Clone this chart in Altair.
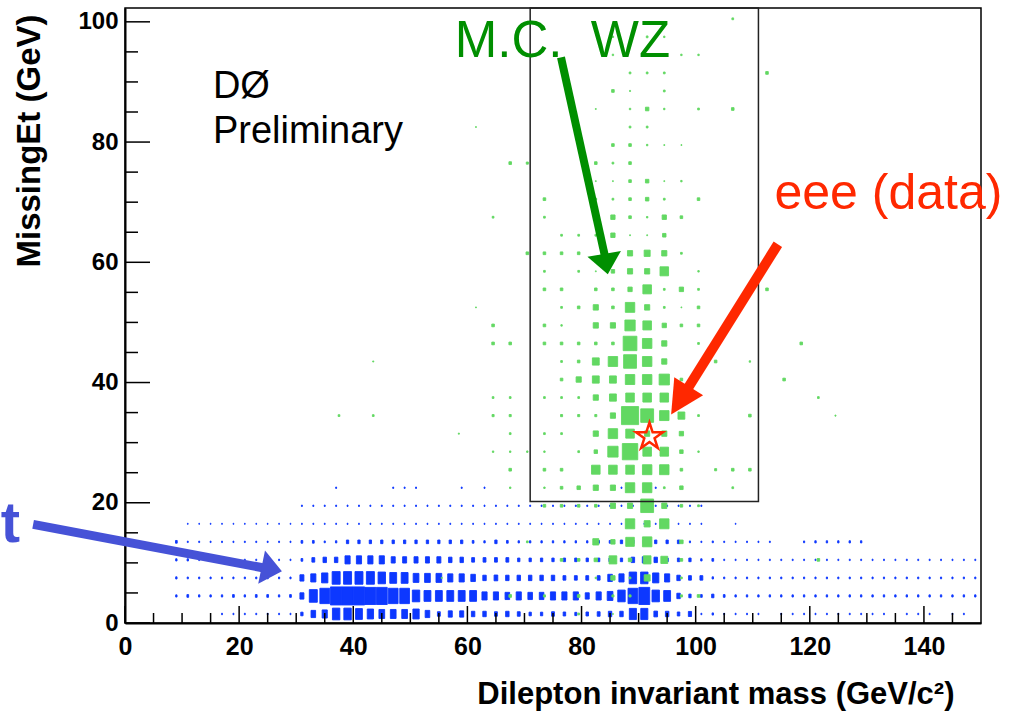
import altair as alt
import pandas as pd

# ---------------------------------------------------------------- data
# Blue histogram (ttbar-like background): bins 2 GeV wide in mass, 3 GeV in MET.
BLUE_MASS = list(range(1, 150, 2))          # bin centres 1, 3, ..., 149
BLUE_MET = [1.5, 4.5, 7.5, 10.5, 13.5, 16.5, 19.5, 22.5]

# relative box size (0..1), one value per mass bin
BLUE_1_5 = [0, 0, 0, 0, 0, 0, 0, 0, 0.08, 0.08, 0.08, 0.08, 0.08, 0.08, 0.08,
            0.2, 0.4, 0.45, 0.65, 0.65, 0.6, 0.55, 0.5, 0.5, 0.5,
            0.55, 0.4, 0.25, 0.35, 0.35, 0.3, 0.3, 0.25, 0.3, 0.25,
            0.2, 0.2, 0.25, 0.22, 0.18, 0.22, 0.25, 0.3, 0.3, 0.62,
            0.62, 0.32, 0.3, 0.22, 0.28, 0.08, 0.12, 0.08, 0.08, 0.08,
            0.08, 0, 0.08, 0.08, 0.08, 0.08, 0.08, 0.08, 0.08, 0.08,
            0.08, 0.08, 0, 0.08, 0.08, 0.08, 0, 0.08, 0.08, 0]
BLUE_4_5 = [0, 0, 0, 0, 0.12, 0.15, 0.12, 0.12, 0.12, 0.15, 0.12, 0.15, 0.15, 0.12, 0.15,
            0.35, 0.7, 0.85, 1.0, 1.0, 1.0, 0.95, 0.95, 0.85, 0.85,
            0.65, 0.6, 0.6, 0.6, 0.6, 0.6, 0.45, 0.45, 0.4, 0.45,
            0.4, 0.4, 0.45, 0.45, 0.45, 0.35, 0.45, 0.5, 0.65, 0.85,
            0.95, 0.65, 0.6, 0.3, 0.2, 0.15, 0.2, 0.15, 0.12, 0.12,
            0.12, 0.12, 0.12, 0.12, 0.12, 0.12, 0.12, 0.12, 0.12, 0.12,
            0.12, 0.12, 0.12, 0.12, 0.12, 0.12, 0.12, 0.12, 0.12, 0.12]
BLUE_7_5 = [0, 0, 0, 0, 0.12, 0.1, 0.1, 0.1, 0.1, 0.1, 0.1, 0.1, 0.1, 0.1, 0.1,
            0.35, 0.45, 0.55, 0.7, 0.7, 0.7, 0.7, 0.65, 0.6, 0.6,
            0.5, 0.5, 0.5, 0.45, 0.45, 0.4, 0.3, 0.32, 0.3, 0.3,
            0.3, 0.3, 0.3, 0.25, 0.25, 0.25, 0.25, 0.4, 0.45, 0.65,
            0.65, 0.55, 0.45, 0.3, 0.25, 0.25, 0.12, 0.1, 0.1, 0.1,
            0.1, 0.1, 0.1, 0.1, 0.1, 0.1, 0.1, 0.1, 0.1, 0.1,
            0.1, 0.1, 0.1, 0.1, 0.1, 0.1, 0.1, 0.1, 0.1, 0.1]
BLUE_10_5 = [0, 0, 0, 0, 0.12, 0.12, 0.08, 0.08, 0.08, 0.08, 0.08, 0.08, 0.08, 0.08, 0.08,
             0.15, 0.25, 0.3, 0.3, 0.45, 0.45, 0.45, 0.45, 0.35, 0.35,
             0.35, 0.35, 0.35, 0.3, 0.3, 0.25, 0.25, 0.25, 0.25, 0.2,
             0.2, 0.2, 0.2, 0.2, 0.2, 0.2, 0.2, 0.2, 0.2, 0.3,
             0.35, 0.3, 0.2, 0.2, 0.2, 0.12, 0.15, 0.08, 0.08, 0.08,
             0.08, 0.08, 0.08, 0.08, 0.08, 0.08, 0.08, 0.08, 0.08, 0.08,
             0.08, 0.08, 0.08, 0.08, 0.08, 0.08, 0.08, 0.08, 0.08, 0.08]
BLUE_13_5 = [0, 0, 0, 0, 0.15, 0.08, 0.08, 0.08, 0.08, 0.08, 0.08, 0.08, 0.08, 0.08, 0.08,
             0.15, 0.15, 0.1, 0.12, 0.2, 0.2, 0.2, 0.2, 0.2, 0.2,
             0.2, 0.2, 0.2, 0.2, 0.2, 0.15, 0.12, 0.2, 0.15, 0.12,
             0.12, 0.12, 0.12, 0.12, 0.12, 0.12, 0.15, 0.15, 0.2, 0.2,
             0.2, 0.2, 0.2, 0.2, 0.1, 0.08, 0.1, 0.08, 0.08, 0.08,
             0.08, 0.08, 0, 0, 0.1, 0.12, 0.12, 0.12, 0.12, 0.12,
             0, 0, 0, 0, 0, 0, 0, 0, 0, 0]
BLUE_16_5 = [0, 0, 0, 0, 0, 0.06, 0.06, 0.06, 0.06, 0.06, 0.06, 0.06, 0.06, 0.06, 0.06,
             0.07, 0.07, 0.07, 0.07, 0.07, 0.07, 0.07, 0.07, 0.07, 0.07,
             0.07, 0.07, 0.07, 0.07, 0.07, 0.07, 0.07, 0.07, 0.07, 0.07,
             0.07, 0.07, 0.07, 0.07, 0.07, 0.07, 0.07, 0.07, 0.07, 0.07,
             0.07, 0.07, 0.07, 0.07, 0.07, 0.07, 0, 0, 0.06, 0,
             0, 0, 0, 0, 0, 0, 0, 0, 0, 0,
             0, 0, 0, 0, 0, 0, 0, 0, 0, 0]
BLUE_19_5 = [0, 0, 0, 0, 0, 0, 0, 0, 0, 0, 0, 0, 0, 0, 0,
             0.08, 0.08, 0.08, 0.08, 0.08, 0.08, 0.08, 0.08, 0.08, 0.08,
             0.08, 0.08, 0.08, 0.08, 0.08, 0.08, 0.08, 0.08, 0.08, 0.08,
             0.08, 0.08, 0.08, 0.08, 0.08, 0.08, 0.08, 0.08, 0.08, 0.08,
             0.08, 0.08, 0.08, 0.08, 0.08, 0.08, 0, 0, 0, 0,
             0, 0, 0, 0, 0, 0, 0, 0, 0, 0,
             0, 0, 0, 0, 0, 0, 0, 0, 0, 0]
BLUE_22_5 = [0, 0, 0, 0, 0, 0, 0, 0, 0, 0, 0, 0, 0, 0, 0,
             0, 0, 0, 0.08, 0, 0, 0, 0, 0.08, 0.08,
             0.08, 0, 0, 0, 0.08, 0, 0.08, 0, 0, 0,
             0, 0, 0, 0, 0, 0, 0, 0, 0.08, 0,
             0.08, 0.08, 0, 0, 0, 0, 0, 0, 0, 0,
             0, 0, 0, 0, 0, 0, 0, 0, 0, 0,
             0, 0, 0, 0, 0, 0, 0, 0, 0, 0]
BLUE_ROWS = [BLUE_1_5, BLUE_4_5, BLUE_7_5, BLUE_10_5,
             BLUE_13_5, BLUE_16_5, BLUE_19_5, BLUE_22_5]

# Green histogram (M.C. WZ): bins 3 GeV x 3 GeV, sparse rows (mass centres, box sizes)
GREEN_MET = [1.5, 4.5, 7.5, 10.5, 13.5, 16.5, 19.5, 22.5, 25.5, 28.5, 31.5, 34.5,
             37.5, 40.5, 43.5, 46.5, 49.5, 52.5, 55.5, 58.5, 61.5, 64.5, 67.5,
             70.5, 73.5, 76.5, 79.5, 82.5, 85.5, 88.5, 91.5, 94.5, 97.5, 100.5]
GREEN_MASS = [
    [79.5, 85.5],
    [67.5, 73.5, 79.5, 85.5, 88.5, 97.5, 100.5],
    [55.5, 82.5, 85.5, 88.5, 91.5, 97.5],
    [76.5, 79.5, 82.5, 85.5, 88.5, 91.5, 94.5, 97.5, 121.5],
    [70.5, 82.5, 85.5, 88.5, 91.5, 97.5],
    [88.5, 91.5, 94.5],
    [73.5, 76.5, 79.5, 82.5, 85.5, 88.5, 91.5, 94.5, 97.5, 100.5],
    [67.5, 73.5, 76.5, 79.5, 82.5, 85.5, 88.5, 91.5, 94.5, 97.5, 106.5],
    [67.5, 73.5, 76.5, 82.5, 85.5, 88.5, 91.5, 94.5, 97.5, 103.5, 106.5, 109.5],
    [64.5, 67.5, 70.5, 73.5, 79.5, 82.5, 85.5, 88.5, 91.5, 94.5, 97.5, 100.5],
    [58.5, 67.5, 73.5, 76.5, 82.5, 85.5, 88.5, 91.5, 94.5, 97.5],
    [37.5, 43.5, 64.5, 67.5, 76.5, 79.5, 82.5, 85.5, 88.5, 91.5, 94.5, 97.5, 100.5, 109.5, 124.5],
    [64.5, 67.5, 73.5, 76.5, 79.5, 82.5, 85.5, 88.5, 91.5, 94.5, 121.5],
    [76.5, 79.5, 82.5, 85.5, 88.5, 91.5, 94.5, 97.5, 115.5],
    [43.5, 76.5, 79.5, 82.5, 85.5, 88.5, 91.5, 94.5, 103.5, 109.5],
    [64.5, 67.5, 73.5, 76.5, 79.5, 82.5, 85.5, 88.5, 91.5, 94.5, 100.5, 118.5],
    [64.5, 73.5, 76.5, 82.5, 85.5, 88.5, 91.5, 94.5, 97.5, 100.5],
    [61.5, 76.5, 79.5, 82.5, 85.5, 88.5, 91.5, 94.5, 97.5, 100.5],
    [73.5, 76.5, 82.5, 85.5, 88.5, 91.5, 94.5, 97.5, 100.5, 112.5],
    [73.5, 79.5, 82.5, 85.5, 88.5, 91.5, 94.5, 100.5],
    [70.5, 73.5, 76.5, 79.5, 88.5, 91.5, 94.5, 97.5],
    [76.5, 79.5, 82.5, 85.5, 88.5, 91.5, 94.5],
    [64.5, 73.5, 85.5, 88.5, 91.5, 94.5, 97.5],
    [73.5, 82.5, 85.5, 88.5, 91.5, 94.5, 100.5],
    [82.5, 85.5, 88.5, 91.5, 94.5, 97.5],
    [67.5, 70.5, 82.5, 85.5, 88.5],
    [85.5, 88.5, 91.5, 94.5, 97.5],
    [61.5, 88.5, 91.5],
    [82.5, 88.5, 91.5, 94.5, 100.5, 106.5],
    [85.5, 88.5, 94.5],
    [88.5, 91.5, 94.5, 112.5],
    [85.5, 97.5, 100.5],
    [85.5, 91.5, 94.5],
    [106.5],
]
GREEN_FRAC = [
    [0.1, 0.05],
    [0.15, 0.12, 0.15, 0.12, 0.12, 0.12, 0.15],
    [0.06, 0.08, 0.25, 0.1, 0.35, 0.1],
    [0.15, 0.15, 0.2, 0.45, 0.2, 0.45, 0.4, 0.15, 0.15],
    [0.1, 0.35, 0.25, 0.5, 0.55, 0.2],
    [0.55, 0.35, 0.55],
    [0.15, 0.15, 0.15, 0.15, 0.3, 0.3, 0.75, 0.3, 0.15, 0.1],
    [0.08, 0.08, 0.15, 0.2, 0.3, 0.3, 0.55, 0.55, 0.1, 0.2, 0.1],
    [0.15, 0.15, 0.15, 0.5, 0.5, 0.5, 0.55, 0.55, 0.15, 0.12, 0.15, 0.15],
    [0.08, 0.08, 0.08, 0.08, 0.1, 0.2, 0.6, 0.9, 0.5, 0.5, 0.2, 0.08],
    [0.06, 0.1, 0.1, 0.1, 0.3, 0.55, 0.5, 0.3, 0.3, 0.25],
    [0.1, 0.1, 0.12, 0.12, 0.12, 0.12, 0.12, 0.3, 1.0, 0.75, 0.55, 0.4, 0.1, 0.15, 0.06],
    [0.1, 0.1, 0.1, 0.1, 0.1, 0.3, 0.4, 0.5, 0.5, 0.5, 0.1],
    [0.15, 0.3, 0.4, 0.4, 0.55, 0.55, 0.6, 0.15, 0.15],
    [0.06, 0.1, 0.15, 0.4, 0.55, 0.75, 0.55, 0.3, 0.15, 0.08],
    [0.15, 0.15, 0.15, 0.15, 0.15, 0.15, 0.15, 0.8, 0.55, 0.3, 0.1, 0.15],
    [0.15, 0.15, 0.08, 0.3, 0.3, 0.6, 0.5, 0.25, 0.15, 0.15],
    [0.05, 0.1, 0.15, 0.3, 0.15, 0.55, 0.3, 0.1, 0.05, 0.15],
    [0.15, 0.15, 0.15, 0.15, 0.25, 0.5, 0.1, 0.25, 0.1, 0.15],
    [0.1, 0.1, 0.05, 0.2, 0.3, 0.3, 0.5, 0.08],
    [0.15, 0.15, 0.15, 0.15, 0.3, 0.35, 0.3, 0.1],
    [0.1, 0.1, 0.1, 0.25, 0.05, 0.05, 0.2],
    [0.1, 0.1, 0.25, 0.15, 0.08, 0.25, 0.15],
    [0.15, 0.1, 0.1, 0.15, 0.2, 0.1, 0.15],
    [0.05, 0.05, 0.15, 0.2, 0.05, 0.08],
    [0.15, 0.12, 0.15, 0.1, 0.15],
    [0.15, 0.15, 0.08, 0.05, 0.05],
    [0.05, 0.1, 0.1],
    [0.05, 0.08, 0.2, 0.08, 0.1, 0.15],
    [0.15, 0.06, 0.1],
    [0.1, 0.1, 0.1, 0.15],
    [0.08, 0.08, 0.08],
    [0.08, 0.1, 0.08],
    [0.1],
]

# the eee data event
STAR_MASS = [91.9]
STAR_MET = [31.0]

# signal box drawn on the plot
BOX_MASS = [71.0]
BOX_MASS2 = [111.0]
BOX_MET = [20.2]
BOX_MET2 = [102.3]

# axis ticks
X_MAJOR = [0, 20, 40, 60, 80, 100, 120, 140]
X_MINOR = [5, 10, 15, 25, 30, 35, 45, 50, 55, 65, 70, 75, 85, 90, 95,
           105, 110, 115, 125, 130, 135, 145]
Y_MAJOR = [0, 20, 40, 60, 80, 100]
Y_MINOR = [5, 10, 15, 25, 30, 35, 45, 50, 55, 65, 70, 75, 85, 90, 95]

# arrows: start, end of shaft, tip, head rotation (deg)
ARROW_NAME = ["green", "red", "blue"]
ARROW_X0 = [76.4, 114.4, -16.1]
ARROW_Y0 = [94.1, 63.0, 16.4]
ARROW_X1 = [84.2, 98.2, 24.6]
ARROW_Y1 = [60.6, 38.4, 9.1]
ARROW_TIPX = [84.6, 95.7, 27.5]
ARROW_TIPY = [58.0, 34.7, 8.6]
ARROW_ANGLE = [170, 212, 101.5]

# text annotations (data coordinates)
TXT_DO = ["DØ", "Preliminary"]
TXT_DO_X = [15.4, 15.4]
TXT_DO_Y = [87.4, 79.9]

# ---------------------------------------------------------------- tables
blue_rec = []
for met, row in zip(BLUE_MET, BLUE_ROWS):
    for m, f in zip(BLUE_MASS, row):
        if f > 0:
            blue_rec.append({"x": m, "y": met, "f": f, "bw": 2.0, "bh": 3.0})
blue_df = pd.DataFrame(blue_rec)

green_rec = []
for met, masses, fracs in zip(GREEN_MET, GREEN_MASS, GREEN_FRAC):
    for m, f in zip(masses, fracs):
        green_rec.append({"x": m, "y": met, "f": f, "bw": 3.0, "bh": 3.0})
green_df = pd.DataFrame(green_rec)

FONT = "Liberation Sans"
BLUE = "#0d38ff"
GREEN = "#62d862"
DKGREEN = "#008f00"
RED = "#ff2800"
ARROWBLUE = "#4652d7"

XS = alt.Scale(domain=[0, 150], nice=False, zero=False)
YS = alt.Scale(domain=[0, 102.3], nice=False, zero=False)

XAX = alt.Axis(values=X_MAJOR, format="d", ticks=False, grid=False,
               labelFont=FONT, labelFontSize=25, labelFontWeight="bold",
               labelColor="black", labelPadding=11, labelFlush=False,
               labelOverlap=False, domainColor="black", domainWidth=2,
               title="Dilepton invariant mass (GeV/c²)", titleFont=FONT,
               titleFontSize=31, titleFontWeight="bold", titleColor="black",
               titleAngle=0, titleAlign="right", titleBaseline="alphabetic",
               titleX=829, titleY=80, titleAnchor="end")
YAX = alt.Axis(values=Y_MAJOR, format="d", ticks=False, grid=False,
               labelFont=FONT, labelFontSize=24, labelFontWeight="bold",
               labelColor="black", labelPadding=7, labelFlush=False,
               labelOverlap=False, domainColor="black", domainWidth=2,
               title="MissingEt (GeV)", titleFont=FONT, titleFontSize=33,
               titleFontWeight="bold", titleColor="black", titleAngle=270,
               titleAlign="right", titleBaseline="alphabetic",
               titleX=-86, titleY=6, titleAnchor="end")


def X(f):
    return alt.X(f, type="quantitative", scale=XS, axis=XAX)


def Y(f):
    return alt.Y(f, type="quantitative", scale=YS, axis=YAX)


def boxes(df, color):
    return alt.Chart(df).transform_calculate(
        x_lo="datum.x - datum.f * datum.bw / 2",
        x_hi="datum.x + datum.f * datum.bw / 2",
        y_lo="datum.y - datum.f * datum.bh / 2",
        y_hi="datum.y + datum.f * datum.bh / 2",
    ).mark_rect(color=color, stroke=color, strokeWidth=0.9, opacity=1).encode(
        x=X("x_lo"), x2="x_hi", y=Y("y_lo"), y2="y_hi")


blue_layer = boxes(blue_df, BLUE)
green_layer = boxes(green_df, GREEN)

box_layer = alt.Chart(pd.DataFrame({"x": BOX_MASS, "x2": BOX_MASS2,
                                    "y": BOX_MET, "y2": BOX_MET2})).mark_rect(
    filled=False, stroke="#222222", strokeWidth=1.5).encode(
    x=X("x"), x2="x2", y=Y("y"), y2="y2")

xmaj = alt.Chart(pd.DataFrame({"x": X_MAJOR})).mark_rule(
    color="black", strokeWidth=1.5).encode(
    x=X("x"), y=alt.value(615), y2=alt.value(598))
xmin = alt.Chart(pd.DataFrame({"x": X_MINOR})).mark_rule(
    color="black", strokeWidth=1.5).encode(
    x=X("x"), y=alt.value(615), y2=alt.value(605))
ymaj = alt.Chart(pd.DataFrame({"y": Y_MAJOR})).mark_rule(
    color="black", strokeWidth=1.5).encode(
    y=Y("y"), x=alt.value(0), x2=alt.value(25))
ymin = alt.Chart(pd.DataFrame({"y": Y_MINOR})).mark_rule(
    color="black", strokeWidth=1.5).encode(
    y=Y("y"), x=alt.value(0), x2=alt.value(13))

STAR = ("M0,-1 L0.225,-0.309 L0.951,-0.309 L0.363,0.118 L0.588,0.809 "
        "L0,0.382 L-0.588,0.809 L-0.363,0.118 L-0.951,-0.309 L-0.225,-0.309 Z")
star_layer = alt.Chart(pd.DataFrame({"x": STAR_MASS, "y": STAR_MET})).mark_point(
    shape=STAR, size=800, filled=False, stroke=RED, strokeWidth=2.5, opacity=1
).encode(x=X("x"), y=Y("y"))

HEAD_SHORT = "M0,0 L1,1.22 L-1,1.22 Z"
HEAD_LONG = "M0,0 L1,1.95 L-1,1.95 Z"

arrow_df = pd.DataFrame({"name": ARROW_NAME, "x0": ARROW_X0, "y0": ARROW_Y0,
                         "x1": ARROW_X1, "y1": ARROW_Y1,
                         "tx": ARROW_TIPX, "ty": ARROW_TIPY,
                         "ang": ARROW_ANGLE})
arrow_layers = []
for i, (col, width, head) in enumerate([(DKGREEN, 8, HEAD_SHORT),
                                        (RED, 10, HEAD_LONG),
                                        (ARROWBLUE, 9, HEAD_SHORT)]):
    sub = arrow_df.iloc[[i]]
    arrow_layers.append(alt.Chart(sub).mark_rule(
        color=col, strokeWidth=width, strokeCap="butt").encode(
        x=X("x0"), y=Y("y0"), x2="x1", y2="y1"))
    arrow_layers.append(alt.Chart(sub).mark_point(
        shape=head, size=1156, filled=True, color=col, opacity=1,
        angle=float(ARROW_ANGLE[i])).encode(x=X("tx"), y=Y("ty")))

do_layer = alt.Chart(pd.DataFrame({"x": TXT_DO_X, "y": TXT_DO_Y, "t": TXT_DO})).mark_text(
    align="left", baseline="alphabetic", font=FONT, fontSize=38, color="black"
).encode(x=X("x"), y=Y("y"), text="t:N")

mc_layer = alt.Chart(pd.DataFrame({"x": [57.8], "y": [94.2], "t": ["M.C. \u00a0WZ"]})).mark_text(
    align="left", baseline="alphabetic", font=FONT, fontSize=51, color=DKGREEN
).encode(x=X("x"), y=Y("y"), text="t:N")

eee_layer = alt.Chart(pd.DataFrame({"x": [113.8], "y": [68.9], "t": ["eee (data)"]})).mark_text(
    align="left", baseline="alphabetic", font=FONT, fontSize=50, color=RED
).encode(x=X("x"), y=Y("y"), text="t:N")

t_layer = alt.Chart(pd.DataFrame({"x": [-18.4], "y": [13.4], "t": ["t"]})).mark_text(
    align="right", baseline="alphabetic", font=FONT, fontSize=58,
    fontWeight="bold", color=ARROWBLUE
).encode(x=X("x"), y=Y("y"), text="t:N")

chart = alt.layer(
    blue_layer, green_layer, box_layer, xmaj, xmin, ymaj, ymin,
    star_layer, *arrow_layers, do_layer, mc_layer, eee_layer, t_layer
).properties(
    width=856, height=615,
    autosize=alt.AutoSizeParams(type="none"),
    padding={"left": 125, "top": 8, "right": 43, "bottom": 90},
    background="white",
).configure_view(stroke="black", strokeWidth=1.5)

chart.save("out.html", embed_options={"renderer": "svg", "actions": False})
